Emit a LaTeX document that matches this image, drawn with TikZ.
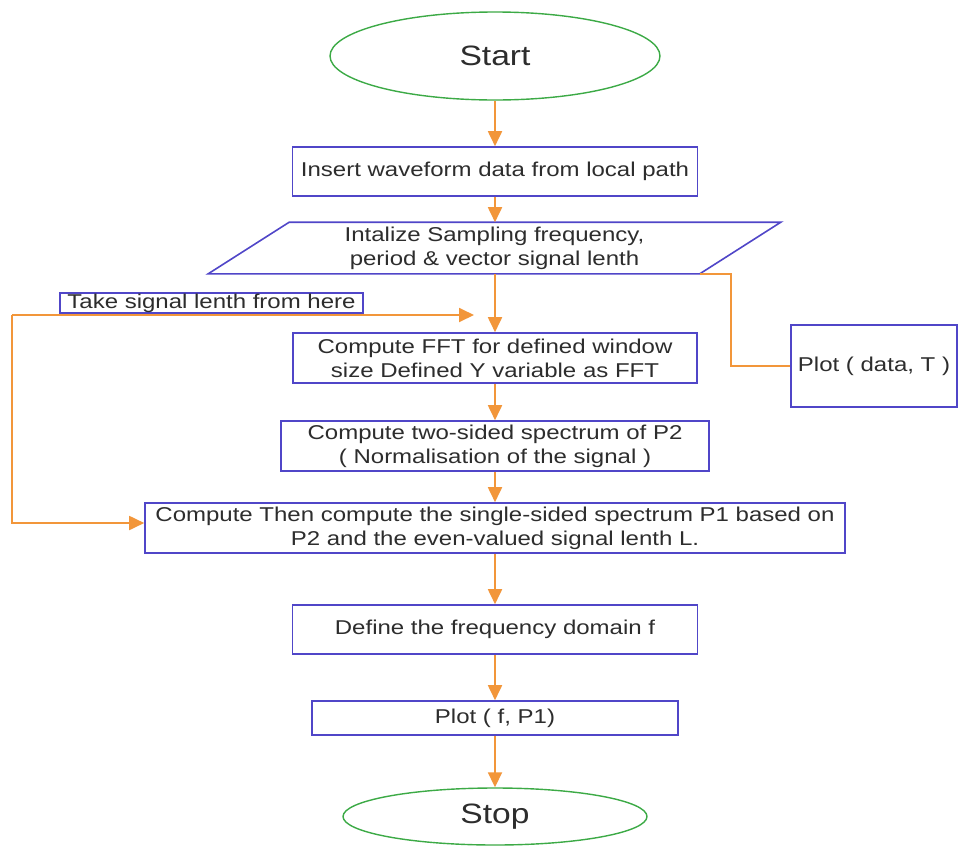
\documentclass[tikz,border=0pt]{standalone}
\usepackage{fontspec}
\setmainfont{Liberation Sans}[FakeStretch=1.2]
\usetikzlibrary{arrows.meta,shapes.geometric}
\definecolor{boxblue}{RGB}{80,70,200}
\definecolor{flowor}{RGB}{242,150,58}
\definecolor{termgreen}{RGB}{60,170,70}
\definecolor{txtgray}{RGB}{45,45,45}
\tikzset{
  stepbox/.style={draw=boxblue, line width=1.6pt, rectangle, inner sep=0pt, align=center,
    text=txtgray, font=\fontsize{20}{24}\selectfont},
  termnode/.style={draw=termgreen, line width=1.4pt, ellipse, inner sep=0pt,
    text=txtgray, font=\fontsize{28}{32}\selectfont},
  arr/.style={draw=flowor, line width=1.8pt, -{Triangle[length=15pt,width=14pt]}},
  conn/.style={draw=flowor, line width=1.5pt}
}
\begin{document}
\begin{tikzpicture}[x=1pt,y=-1pt]
\useasboundingbox (0,0) rectangle (958,846);
\fill[white] (0,0) rectangle (958,846);

\node[termnode, minimum width=330, minimum height=88] (start) at (495,56) {Start};
\node[stepbox, minimum width=405, minimum height=49] (box1) at (495,171.5) {Insert waveform data from local path};
\node[stepbox, draw=none, minimum width=490, minimum height=50] (init) at (494.5,248)
  {Intalize Sampling frequency,\\period \& vector signal lenth};
\draw[draw=boxblue, line width=1.6pt] ([xshift=40.5]init.north west) -- ([xshift=40.5]init.north east)
  -- ([xshift=-40.5]init.south east) -- ([xshift=-40.5]init.south west) -- cycle;
\coordinate (initbr) at ([xshift=-40.5]init.south east);

\node[stepbox, minimum width=303, minimum height=20, text height=14pt, text depth=4pt] (take) at (211.5,303) {Take signal lenth from here};
\node[stepbox, minimum width=404, minimum height=50] (fft) at (495,358)
  {Compute FFT for defined window\\size Defined Y variable as FFT};
\node[stepbox, minimum width=166, minimum height=82] (plotd) at (874,366) {Plot ( data, T )};
\node[stepbox, minimum width=428, minimum height=50] (p2) at (495,446)
  {Compute two-sided spectrum of P2\\( Normalisation of the signal )};
\node[stepbox, minimum width=700, minimum height=50] (p1) at (495,528)
  {Compute Then compute the single-sided spectrum P1 based on\\P2 and the even-valued signal lenth L.};
\node[stepbox, minimum width=405, minimum height=49] (dom) at (495,629.5) {Define the frequency domain f};
\node[stepbox, minimum width=366, minimum height=34] (plotf) at (495,718) {Plot ( f, P1)};
\node[termnode, minimum width=304, minimum height=57] (stop) at (495,816.5) {Stop};

\draw[arr] (start.south) -- (box1.north);
\draw[arr] (box1.south) -- ([xshift=0.5pt]init.north);
\draw[arr] ([xshift=0.5pt]init.south) -- (fft.north);
\draw[arr] (fft.south) -- (p2.north);
\draw[arr] (p2.south) -- (p1.north);
\draw[arr] (p1.south) -- (dom.north);
\draw[arr] (dom.south) -- (plotf.north);
\draw[arr] (plotf.south) -- (stop.north);

\draw[conn] (initbr) -- ++(31,0) |- (plotd.west);

\coordinate (lc) at (12,315);
\coordinate (tipA) at (474,315);
\draw[arr] (lc) -- (tipA);
\draw[arr] (lc) |- ([yshift=5pt]p1.west);
\end{tikzpicture}
\end{document}
